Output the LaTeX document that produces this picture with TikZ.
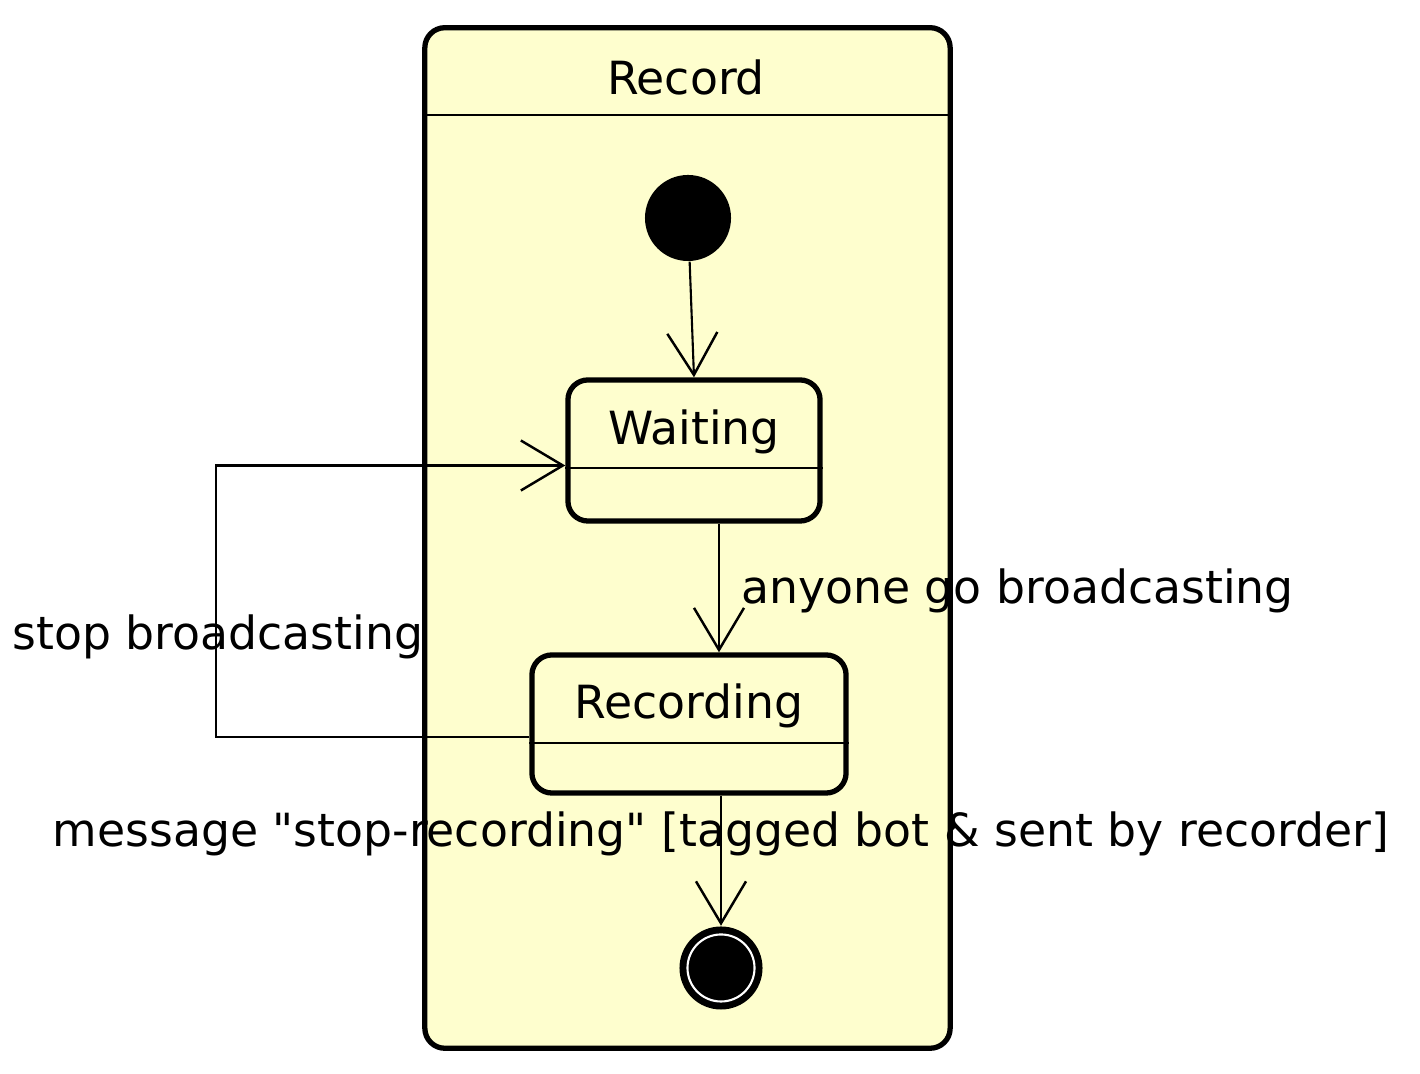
\documentclass[tikz,border=0pt]{standalone}
\usepackage{fontspec}
\setmainfont{DejaVu Sans}[Ligatures=TeXOff]
\usetikzlibrary{arrows.meta,calc}
\definecolor{statebg}{HTML}{FEFECE}
\newcommand{\umlfont}{\fontsize{13}{15.5}\selectfont}

\begin{document}
\begin{tikzpicture}[x=0.01cm,y=-0.01cm,font=\umlfont,
    statebox/.style={draw,fill=statebg,line width=1.5pt,rounded corners=0.2cm},
    sepline/.style={line width=0.6pt},
    trans/.style={line width=0.6pt,-{Straight Barb[length=0.42cm,width=0.5cm,line width=0.7pt]}},
    lbl/.style={inner sep=0pt}]
        \useasboundingbox (0,0) rectangle (1420,1074);
        % composite state
        \node[statebox,minimum width=5.25cm,minimum height=10.2cm] (record) at (687.5,538) {};
        \node[lbl] (recordtxt) at (686,77) {Record};
        \draw[sepline] (record.west |- 0,115) -- (record.east |- 0,115);
        % pseudo states
        \node[circle,fill,minimum size=0.86cm,inner sep=0pt] (init) at (688,218) {};
        \node[circle,fill,minimum size=0.83cm,inner sep=0pt] (final) at (721,968) {};
        \node[circle,fill,draw=white,line width=0.6pt,minimum size=0.67cm,inner sep=0pt] (finalin) at (final) {};
        % simple states
        \node[statebox,minimum width=2.52cm,minimum height=1.41cm] (waiting) at (694,450.5) {};
        \node[lbl] (waitingtxt) at (694,432) {Waiting};
        \draw[sepline] (waiting.west |- 0,468) -- (waiting.east |- 0,468);
        \node[statebox,minimum width=3.14cm,minimum height=1.38cm] (recording) at (689,724) {};
        \node[lbl] (recordingtxt) at (689,706) {Recording};
        \draw[sepline] (recording.west |- 0,743) -- (recording.east |- 0,743);
        % transitions
        \coordinate (loopcorner) at (218,637);
        \draw[trans] (init) -- (waiting.north);
        \draw[trans] (waiting.south -| 719,0) -- (recording.north -| 719,0)
          node[lbl,pos=0.52,anchor=west,xshift=0.21cm] {anyone go broadcasting};
        \draw[trans] (recording.south -| final) -- (final)
          node[lbl,pos=0.29] {message "stop-recording" [tagged bot \& sent by recorder]};
        \draw[trans] ([yshift=-0.13cm]recording.west) -| (216,637) |- ([yshift=-0.15cm]waiting.west);
        \node[lbl] (stoplbl) at (loopcorner) {stop broadcasting};
\end{tikzpicture}
\end{document}
